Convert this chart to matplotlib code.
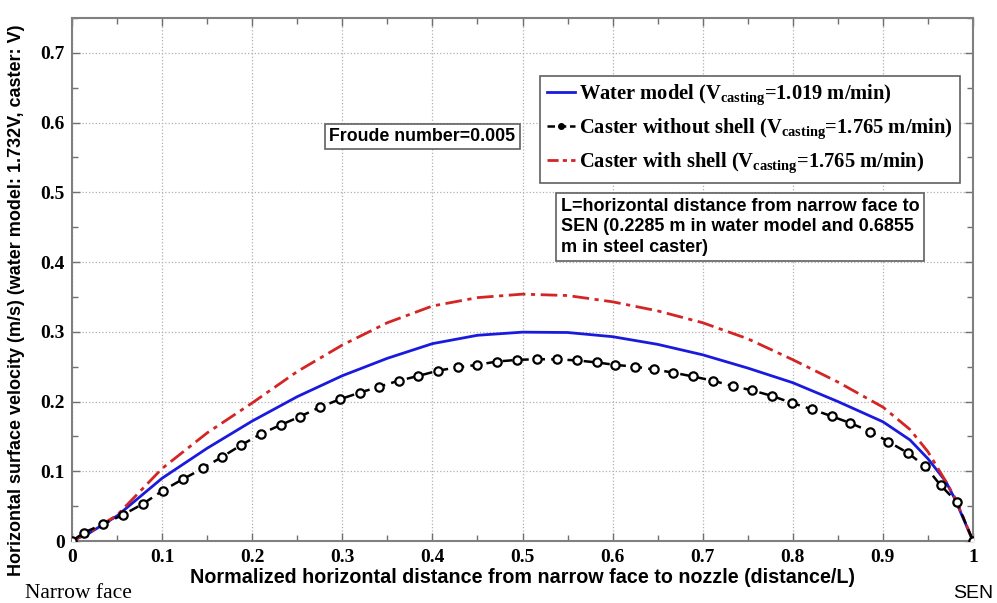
import matplotlib
matplotlib.use("Agg")
import matplotlib.pyplot as plt
from matplotlib.lines import Line2D

plt.rcParams['mathtext.fontset'] = 'custom'
plt.rcParams['mathtext.rm'] = 'Liberation Serif'
plt.rcParams['mathtext.bf'] = 'Liberation Serif:bold'

# Water model (blue solid)
water_x = [0, 0.02, 0.05, 0.1, 0.15, 0.2, 0.25, 0.3, 0.35, 0.4, 0.45, 0.5, 0.55, 0.6,
           0.65, 0.7, 0.75, 0.8, 0.85, 0.9, 0.93, 0.95, 0.97, 0.98, 1.0]
water_y = [0, 0.012, 0.036, 0.09, 0.133, 0.172, 0.207, 0.237, 0.262, 0.283, 0.295, 0.2995,
           0.299, 0.293, 0.282, 0.267, 0.248, 0.227, 0.200, 0.171, 0.145, 0.118, 0.085, 0.060, 0.0]

# Caster with shell (red dash-dot)
shell_x = [0, 0.02, 0.05, 0.1, 0.15, 0.2, 0.25, 0.3, 0.35, 0.4, 0.45, 0.5, 0.55, 0.6,
           0.65, 0.7, 0.75, 0.8, 0.85, 0.9, 0.93, 0.95, 0.97, 0.98, 1.0]
shell_y = [0, 0.013, 0.037, 0.104, 0.155, 0.198, 0.243, 0.281, 0.313, 0.337, 0.349, 0.354,
           0.352, 0.343, 0.330, 0.313, 0.290, 0.260, 0.228, 0.192, 0.160, 0.128, 0.085, 0.062, 0.0]

# Caster without shell (black dashed with circles)
noshell_x = [0, 0.0133, 0.0348, 0.0562, 0.0784, 0.1006, 0.1228, 0.145, 0.167, 0.188, 0.2095,
             0.2316, 0.253, 0.275, 0.2974, 0.3196, 0.341, 0.363, 0.3844, 0.4066, 0.4288,
             0.449, 0.4714, 0.4935, 0.516, 0.538, 0.56, 0.583, 0.603, 0.625, 0.646, 0.667,
             0.689, 0.711, 0.734, 0.755, 0.777, 0.799, 0.821, 0.843, 0.864, 0.886, 0.906,
             0.928, 0.947, 0.964, 0.982, 1.0]
noshell_y = [0, 0.012, 0.0244, 0.0373, 0.053, 0.0722, 0.0885, 0.104, 0.121, 0.1377, 0.1535,
             0.1664, 0.1784, 0.1918, 0.2033, 0.2128, 0.2214, 0.230, 0.2367, 0.2444, 0.2492,
             0.2525, 0.2573, 0.2597, 0.2607, 0.2605, 0.259, 0.256, 0.2525, 0.250, 0.246, 0.2415,
             0.236, 0.230, 0.222, 0.216, 0.208, 0.198, 0.189, 0.179, 0.169, 0.157, 0.1425,
             0.126, 0.107, 0.080, 0.056, 0.0]

xticks = [0, 0.1, 0.2, 0.3, 0.4, 0.5, 0.6, 0.7, 0.8, 0.9, 1]
xticklabels = ['0', '0.1', '0.2', '0.3', '0.4', '0.5', '0.6', '0.7', '0.8', '0.9', '1']
yticks = [0, 0.1, 0.2, 0.3, 0.4, 0.5, 0.6, 0.7]
yticklabels = ['0', '0.1', '0.2', '0.3', '0.4', '0.5', '0.6', '0.7']

fig = plt.figure(figsize=(9.97, 6.03), dpi=100)
ax = fig.add_axes([72/997, 1 - 541/603, (973 - 72)/997, (541 - 18)/603])

ax.plot(water_x, water_y, color='#1a1adf', lw=2, zorder=3)
ax.plot(noshell_x, noshell_y, color='black', lw=1.8, ls=(0, (4, 2.5)), marker='o',
        markersize=6, markerfacecolor='white', markeredgecolor='black',
        markeredgewidth=1.6, zorder=4)
ax.plot(shell_x, shell_y, color='#d42424', lw=2, ls=(0, (6, 2, 1.5, 2)), zorder=3)

ax.set_xlim(0, 1)
ax.set_ylim(0, 0.75)
ax.set_xticks(xticks)
ax.set_xticklabels(xticklabels)
ax.set_yticks(yticks)
ax.set_yticklabels(yticklabels)
ax.set_xticks([i * 0.05 for i in range(21)], minor=True)
ax.set_yticks([i * 0.05 for i in range(16)], minor=True)
ax.tick_params(which='both', direction='in', top=True, right=True, colors='#707070',
               labelcolor='black')
ax.tick_params(which='major', length=6, width=1)
ax.tick_params(which='minor', length=4, width=1)
for lab in ax.get_xticklabels() + ax.get_yticklabels():
    lab.set_fontfamily('Liberation Serif')
    lab.set_fontweight('bold')
    lab.set_fontsize(14)
ax.tick_params(axis='x', pad=6)
ax.tick_params(axis='y', pad=5)

ax.grid(True, which='major', ls=':', color='#b0b0b0', lw=0.9)
for s in ax.spines.values():
    s.set_color('#808080')
    s.set_linewidth(1.5)

ax.set_xlabel('Normalized horizontal distance from narrow face to nozzle (distance/L)',
              fontfamily='Liberation Sans', fontweight='bold', fontsize=14.2, labelpad=1)
ax.set_ylabel('Horizontal surface velocity (m/s) (water model: 1.732V, caster: V)',
              fontfamily='Liberation Sans', fontweight='bold', fontsize=13.0, labelpad=0)
ax.yaxis.set_label_coords(-0.052, 0.46)

handles = [
    Line2D([], [], color='#1a1adf', lw=2),
    Line2D([], [], color='black', lw=1.8, ls=(0, (3, 1.5)), marker='o', markersize=4,
           markerfacecolor='black'),
    Line2D([], [], color='#d42424', lw=2, ls=(0, (4, 1.5, 1.5, 1.5))),
]
labels = [
    r'Water model (V$_{\mathbf{casting}}$=1.019 m/min)',
    r'Caster without shell (V$_{\mathbf{casting}}$=1.765 m/min)',
    r'Caster with shell (V$_{\mathbf{casting}}$=1.765 m/min)',
]
leg = ax.legend(handles, labels, loc='upper left', bbox_to_anchor=(468/901, (541 - 76)/523),
                prop={'family': 'Liberation Serif', 'weight': 'bold', 'size': 14.8},
                frameon=True, fancybox=False, edgecolor='#606060', framealpha=1,
                handlelength=1.35, handletextpad=0.2, borderpad=0.35, labelspacing=0.42,
                borderaxespad=0)
leg.get_frame().set_linewidth(1.2)

ax.text(0.389, 0.58, 'Froude number=0.005', transform=ax.transData,
        ha='center', va='center', fontfamily='Liberation Sans', fontweight='bold',
        fontsize=12.8,
        bbox=dict(boxstyle='square,pad=0.25', facecolor='white', edgecolor='#606060', lw=1.2))

ax.text(0.5425, 0.4925, 'L=horizontal distance from narrow face to\nSEN (0.2285 m in water model and 0.6855\nm in steel caster)',
        transform=ax.transData, ha='left', va='top', fontfamily='Liberation Sans',
        fontweight='bold', fontsize=13, linespacing=1.3,
        bbox=dict(boxstyle='square,pad=0.25', facecolor='white', edgecolor='#606060', lw=1.2))

fig.text(25/997, 1 - 594/603, 'Narrow face', fontfamily='Liberation Serif', fontsize=15.5,
         ha='left', va='center')
fig.text(993/997, 1 - 594/603, 'SEN', fontfamily='Liberation Sans', fontsize=14,
         ha='right', va='center')

fig.savefig('out.png', dpi=100)
